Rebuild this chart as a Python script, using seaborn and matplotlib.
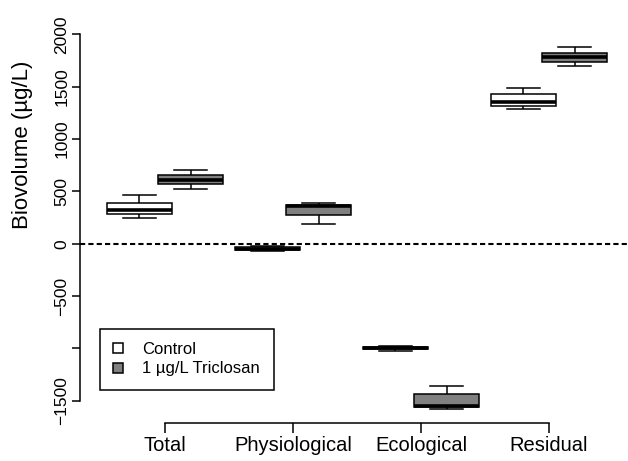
import numpy as np
import pandas as pd
import seaborn as sns
import matplotlib
matplotlib.use("Agg")
import matplotlib.pyplot as plt
from matplotlib.patches import Patch

# ---- data (five readings per box: low whisker, Q1, median, Q3, high whisker)
categories = ["Total", "Physiological", "Ecological", "Residual"]
treatments = ["Control", "1 µg/L Triclosan"]

control_total = [245, 283, 318, 394, 467]
control_physiological = [-72, -60, -48, -35, -25]
control_ecological = [-1025, -1010, -995, -985, -975]
control_residual = [1285, 1320, 1358, 1428, 1491]

triclosan_total = [522, 569, 611, 658, 706]
triclosan_physiological = [190, 270, 365, 375, 390]
triclosan_ecological = [-1575, -1560, -1552, -1440, -1364]
triclosan_residual = [1698, 1733, 1787, 1825, 1876]

y_ticks = [-1500, -1000, -500, 0, 500, 1000, 1500, 2000]
y_tick_labels = ["\u22121500", "", "\u2212500", "0", "500", "1000", "1500", "2000"]

control_sets = [control_total, control_physiological, control_ecological, control_residual]
triclosan_sets = [triclosan_total, triclosan_physiological, triclosan_ecological, triclosan_residual]

offset = 0.2
rows = []
for i, cat in enumerate(categories):
    for v in control_sets[i]:
        rows.append({"category": cat, "treatment": treatments[0], "pos": i - offset, "value": v})
    for v in triclosan_sets[i]:
        rows.append({"category": cat, "treatment": treatments[1], "pos": i + offset, "value": v})
df = pd.DataFrame(rows)

plt.rcParams["font.family"] = ["Liberation Sans", "DejaVu Sans"]

fig = plt.figure(figsize=(6.28, 4.61), dpi=100)
L, R, T, B = 80, 628, 33, 423
W, H = 628, 461
ax = fig.add_axes([L / W, (H - B) / H, (R - L) / W, (B - T) / H])

colors = {treatments[0]: "white", treatments[1]: "#808080"}
for tr in treatments:
    sub = df[df["treatment"] == tr]
    sns.boxplot(data=sub, x="pos", y="value", orient="x", native_scale=True,
                width=0.51, color=colors[tr], linecolor="black", linewidth=1.1,
                saturation=1, fliersize=0, capwidths=0.255,
                medianprops=dict(linewidth=2.6, color="black"),
                ax=ax)

ax.axhline(0, color="black", lw=1.5, ls=(0, (2.5, 1.5)), zorder=5)

ax.set_xlim(-(165 - L) / 128, (R - 165) / 128)
ax.set_ylim(-1713, 2014)
for s in ["top", "right"]:
    ax.spines[s].set_visible(False)
ax.spines["left"].set_bounds(-1500, 2000)
ax.spines["bottom"].set_bounds(0, 3)
ax.spines["left"].set_linewidth(1.1)
ax.spines["bottom"].set_linewidth(1.1)

ax.set_xticks(range(len(categories)))
ax.set_xticklabels(categories, fontsize=14.5)
ax.set_yticks(y_ticks)
ax.set_yticklabels(y_tick_labels, fontsize=12.5, rotation=90, va="center")
ax.tick_params(axis="y", direction="out", length=5.5, width=1.1, pad=2)
ax.tick_params(axis="x", direction="out", length=7, width=1.1, pad=2)
ax.set_xlabel("")
ax.set_ylabel("Biovolume (µg/L)", fontsize=16)
ax.yaxis.set_label_coords((33 - L) / (R - L), (B - 145) / (B - T))

handles = [Patch(facecolor=colors[t], edgecolor="black", linewidth=1.1) for t in treatments]
leg = ax.legend(handles, treatments, loc="upper left",
                bbox_to_anchor=(100 / W, 1 - 329 / H), bbox_transform=fig.transFigure,
                borderaxespad=0, fancybox=False, edgecolor="black", framealpha=1,
                fontsize=12, handlelength=0.55, handleheight=0.55,
                handletextpad=1.2, labelspacing=0.25, borderpad=0.8)
leg.get_frame().set_linewidth(1.1)

fig.savefig("out.png", dpi=100)
